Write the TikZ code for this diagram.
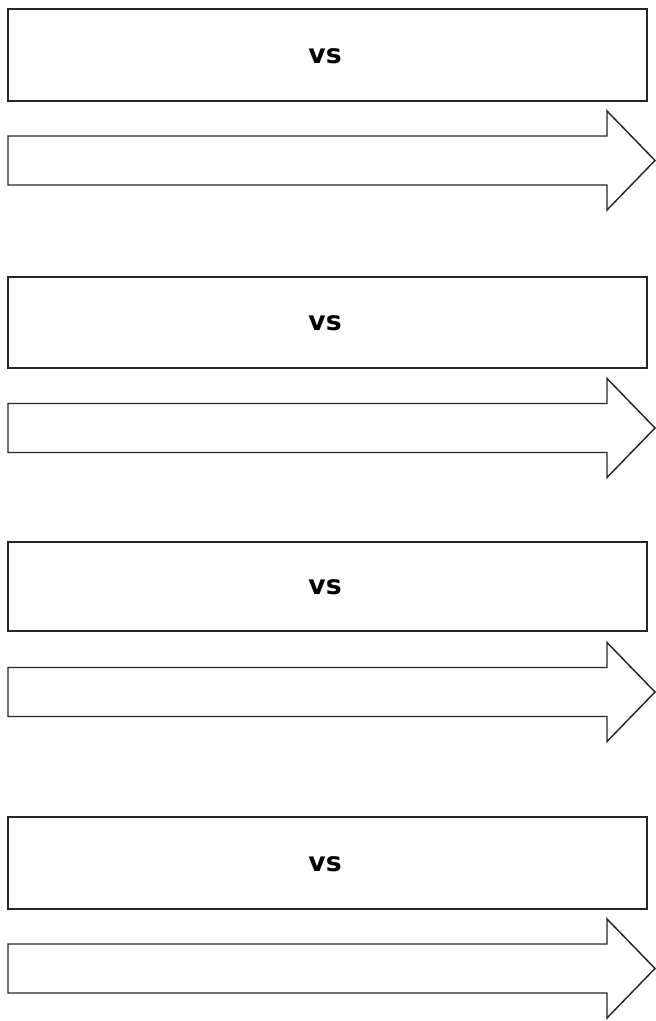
\documentclass[tikz,border=0pt]{standalone}
\usepackage{fontspec}
\setmainfont{DejaVu Sans}
\begin{document}
\begin{tikzpicture}[x=0.75pt,y=-0.75pt,
  vsbox/.style={draw=black!85,line width=1.2pt,fill=white,inner sep=0pt,font=\bfseries\fontsize{20pt}{24pt}\selectfont},
  bigarrow/.style={draw=black!85,line width=1.1pt,fill=white,line join=miter}]
\useasboundingbox[fill=white] (0,0) rectangle (656,1021);
\foreach \i/\bt/\bb/\ac in {1/9/101/160.5, 2/277/368/428, 3/542/631/692, 4/817/909/968.5}{
  \node[vsbox,minimum width=639*0.75pt,minimum height={(\bb-\bt)*0.75pt}] (box\i) at (327.5,{(\bt+\bb)/2}) {};
  \node[font=\bfseries\fontsize{20pt}{24pt}\selectfont,inner sep=0pt] (lbl\i) at (325,{(\bt+\bb)/2+1}) {vs};
  \draw[bigarrow] (8,\ac-24.5) -- (607,\ac-24.5) -- (607,\ac-49.5) -- (655,\ac) -- (607,\ac+49.5) -- (607,\ac+24.5) -- (8,\ac+24.5) -- cycle;
}
\end{tikzpicture}
\end{document}
